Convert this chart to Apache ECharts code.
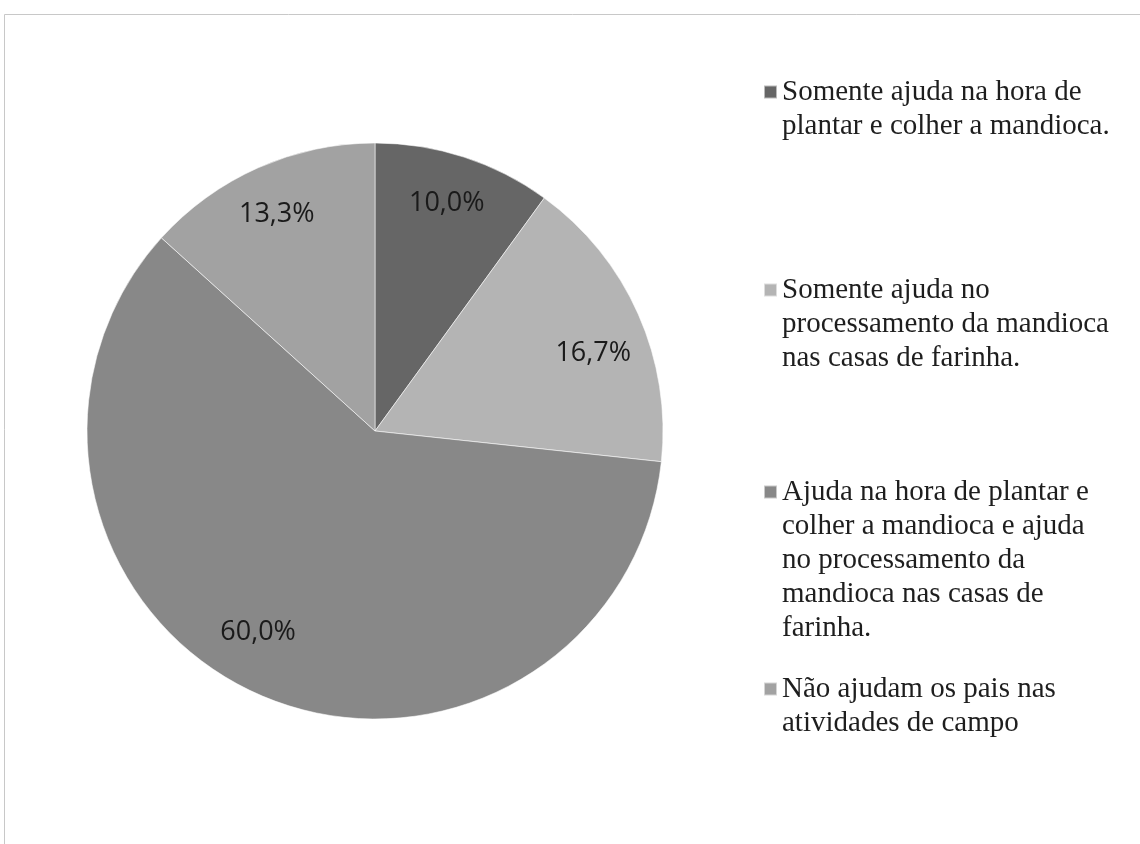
<!DOCTYPE html>
<html>
<head>
<meta charset="utf-8">
<title>Participação nas atividades de campo</title>
<script src="https://cdn.jsdelivr.net/npm/echarts@6/dist/echarts.min.js"></script>
<style>
  html, body { margin: 0; padding: 0; background: #ffffff; }
  #chart { width: 1140px; height: 844px; }
</style>
</head>
<body>
<div id="chart"></div>
<script>
// Categories (line breaks follow the legend wrapping)
const categories = [
  'Somente ajuda na hora de\nplantar e colher a mandioca.',
  'Somente ajuda no\nprocessamento da mandioca\nnas casas de farinha.',
  'Ajuda na hora de plantar e\ncolher a mandioca e ajuda\nno processamento da\nmandioca nas casas de\nfarinha.',
  'Não ajudam os pais nas\natividades de campo'
];
// Share of respondents, in percent
const percentages = [10.0, 16.7, 60.0, 13.3];
// Slice fills
const sliceColors = ['#666666', '#b4b4b4', '#888888', '#a2a2a2'];

const fmtPct = v => v.toFixed(1).replace('.', ',') + '%';

const chart = echarts.init(document.getElementById('chart'), null, { renderer: 'canvas' });

const pieCenter = [375, 431];
const pieRadius = 288;
const LH = 34;
// Small nudges so the percentage labels sit clear of the slice edges
const labelNudges = [[-3, 3], [-3, 21], [-18, -20], [0, 5]];

const pieData = categories.map((name, i) => ({
  name,
  value: percentages[i],
  itemStyle: { color: sliceColors[i] }
}));

// One legend block per category so each can sit at its own height.
// Blank lines before the text keep the (vertically centred) marker
// level with the first line of the label.
const legendTops = [41, 205, 339, 638];
const legends = categories.map((name, i) => ({
  show: true,
  left: 763,
  top: legendTops[i],
  padding: 0,
  orient: 'vertical',
  selectedMode: false,
  icon: 'rect',
  itemWidth: 13,
  itemHeight: 13,
  data: [name],
  formatter: label => '\n'.repeat(label.split('\n').length - 1) + label,
  textStyle: {
    fontFamily: '"Liberation Serif", "DejaVu Serif", serif',
    fontSize: 29,
    lineHeight: LH,
    color: '#1e1e1e'
  }
}));

chart.setOption({
  backgroundColor: '#ffffff',
  animation: false,
  legend: legends,
  graphic: [{
    type: 'rect',
    silent: true,
    shape: { x: 4.5, y: 14.5, width: 1200, height: 900 },
    style: { fill: 'none', stroke: '#c8c8c8', lineWidth: 1 }
  }],
  series: [
    {
      type: 'pie',
      center: pieCenter,
      radius: [0, pieRadius],
      startAngle: 90,
      clockwise: true,
      silent: true,
      label: { show: false },
      labelLine: { show: false },
      itemStyle: { borderColor: 'rgba(255,255,255,0.55)', borderWidth: 1 },
      data: pieData
    },
    {
      // Transparent twin used only to place the percentage labels
      type: 'pie',
      center: pieCenter,
      radius: [0, pieRadius * 1.66],
      startAngle: 90,
      clockwise: true,
      silent: true,
      labelLine: { show: false },
      itemStyle: { color: 'rgba(0,0,0,0)', borderWidth: 0 },
      label: {
        show: true,
        position: 'inside',
        formatter: p => fmtPct(p.value),
        fontFamily: '"Open Sans", "Noto Sans", sans-serif',
        fontSize: 27,
        color: '#1a1a1a'
      },
      data: categories.map((name, i) => ({
        name,
        value: percentages[i],
        label: { offset: labelNudges[i] }
      }))
    }
  ]
});
</script>
</body>
</html>
